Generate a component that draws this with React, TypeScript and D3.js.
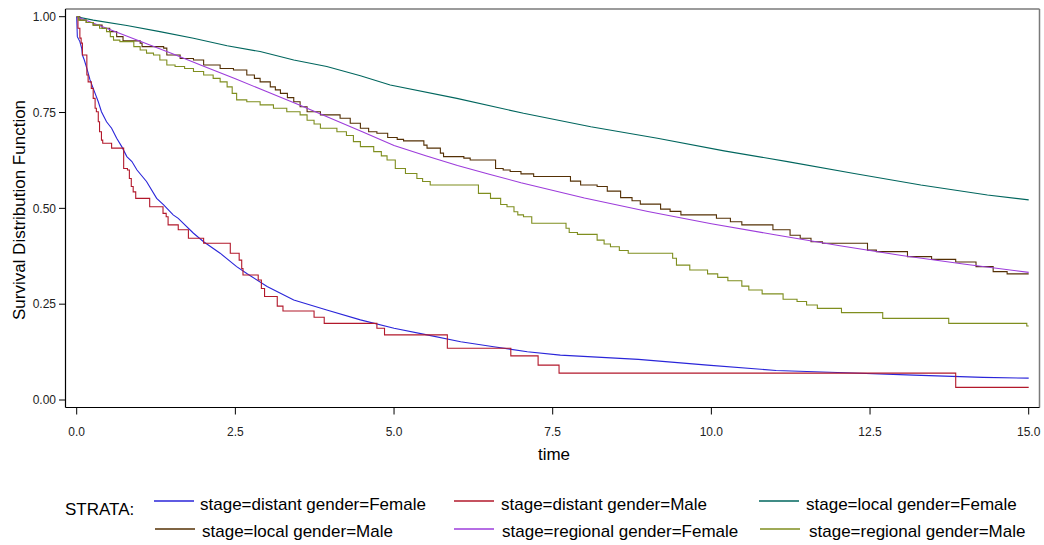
import React from "react";
import * as d3 from "d3";

type Pt = [number, number];

// [time, survival] readings
const distantFemale: Pt[] = [
  [0, 1], [0.01, 0.948], [0.05, 0.935], [0.08, 0.917], [0.09, 0.9], [0.12, 0.887], [0.16, 0.865],
  [0.21, 0.835], [0.26, 0.813], [0.34, 0.778], [0.39, 0.752], [0.47, 0.726], [0.55, 0.709],
  [0.63, 0.683], [0.71, 0.661], [0.79, 0.635], [0.87, 0.622], [0.95, 0.6], [1.1, 0.57],
  [1.26, 0.526], [1.37, 0.509], [1.52, 0.483], [1.6, 0.474], [1.84, 0.435], [2.0, 0.413],
  [2.26, 0.383], [2.52, 0.348], [2.68, 0.33], [3.0, 0.296], [3.42, 0.261], [3.94, 0.235],
  [4.47, 0.209], [5.0, 0.187], [5.52, 0.17], [6.05, 0.152], [6.57, 0.139], [7.1, 0.126],
  [7.62, 0.117], [8.85, 0.106], [9.94, 0.091], [11.02, 0.077], [12.11, 0.071], [13.19, 0.065],
  [14.28, 0.059], [15, 0.057],
];

const distantMale: Pt[] = [
  [0, 1], [0.02, 0.97], [0.05, 0.944], [0.07, 0.931], [0.09, 0.9], [0.16, 0.848], [0.18, 0.83],
  [0.23, 0.813], [0.26, 0.787], [0.29, 0.761], [0.31, 0.752], [0.34, 0.726], [0.36, 0.7],
  [0.39, 0.678], [0.41, 0.67], [0.55, 0.657], [0.74, 0.604], [0.8, 0.6], [0.83, 0.578],
  [0.86, 0.557], [0.89, 0.543], [0.93, 0.526], [1.15, 0.504], [1.36, 0.487], [1.41, 0.478],
  [1.44, 0.457], [1.6, 0.444], [1.76, 0.422], [2.0, 0.409], [2.42, 0.383], [2.56, 0.365],
  [2.6, 0.343], [2.62, 0.326], [2.86, 0.313], [2.91, 0.291], [2.96, 0.27], [3.16, 0.245],
  [3.25, 0.232], [3.74, 0.216], [3.9, 0.2], [4.73, 0.187], [4.85, 0.17], [5.84, 0.135],
  [6.84, 0.115], [7.27, 0.091], [7.6, 0.07], [13.85, 0.033], [15, 0.033],
];

const localFemale: Pt[] = [
  [0, 1], [0.26, 0.991], [0.79, 0.977], [1.31, 0.961], [1.84, 0.944], [2.37, 0.924],
  [2.89, 0.909], [3.42, 0.887], [3.94, 0.87], [4.47, 0.846], [4.94, 0.822], [5.99, 0.787],
  [7.04, 0.748], [8.1, 0.713], [9.15, 0.683], [10.2, 0.65], [11.2, 0.622], [12.25, 0.591],
  [13.3, 0.561], [14.35, 0.535], [15, 0.522],
];

const localMale: Pt[] = [
  [0, 1], [0.05, 0.991], [0.15, 0.985], [0.26, 0.978], [0.4, 0.97], [0.52, 0.961], [0.63, 0.948],
  [0.73, 0.937], [1.0, 0.931], [1.03, 0.922], [1.37, 0.918], [1.42, 0.9], [1.63, 0.891],
  [1.84, 0.887], [2.0, 0.874], [2.26, 0.865], [2.47, 0.861], [2.68, 0.848], [2.8, 0.839],
  [2.89, 0.83], [3.05, 0.817], [3.13, 0.809], [3.21, 0.8], [3.32, 0.789], [3.42, 0.778],
  [3.52, 0.765], [3.63, 0.752], [3.84, 0.744], [4.15, 0.735], [4.31, 0.722], [4.47, 0.709],
  [4.6, 0.7], [4.73, 0.696], [4.9, 0.685], [5.05, 0.68], [5.15, 0.676], [5.47, 0.665],
  [5.52, 0.657], [5.73, 0.644], [5.78, 0.635], [6.1, 0.631], [6.2, 0.626], [6.6, 0.604],
  [6.72, 0.6], [6.83, 0.596], [7.0, 0.59], [7.2, 0.583], [7.78, 0.571], [7.94, 0.561],
  [8.2, 0.557], [8.36, 0.545], [8.57, 0.528], [8.75, 0.52], [8.88, 0.511], [9.2, 0.498],
  [9.35, 0.492], [9.52, 0.483], [10.08, 0.474], [10.3, 0.465], [10.48, 0.457], [10.97, 0.444],
  [11.24, 0.43], [11.4, 0.422], [11.57, 0.413], [11.75, 0.409], [12.46, 0.391], [12.6, 0.387],
  [13.09, 0.374], [13.47, 0.367], [13.85, 0.36], [14.17, 0.348], [14.44, 0.335], [14.66, 0.329],
  [15, 0.329],
];

const regionalFemale: Pt[] = [
  [0, 1], [0.5, 0.968], [1, 0.936], [1.5, 0.904], [2, 0.871], [2.5, 0.838], [3, 0.804],
  [3.5, 0.77], [4, 0.735], [4.5, 0.7], [5, 0.664], [5.5, 0.637], [6, 0.612], [6.5, 0.589],
  [7, 0.567], [8, 0.527], [9, 0.492], [10, 0.46], [11, 0.431], [12, 0.403], [13, 0.377],
  [14, 0.354], [15, 0.333],
];

const regionalMale: Pt[] = [
  [0, 1], [0.03, 0.991], [0.15, 0.985], [0.26, 0.978], [0.36, 0.97], [0.47, 0.961], [0.53, 0.948],
  [0.58, 0.939], [0.68, 0.935], [0.9, 0.922], [1.0, 0.913], [1.1, 0.905], [1.21, 0.9],
  [1.31, 0.887], [1.42, 0.874], [1.55, 0.87], [1.7, 0.865], [1.84, 0.857], [2.0, 0.848],
  [2.15, 0.839], [2.26, 0.83], [2.37, 0.817], [2.45, 0.8], [2.52, 0.783], [2.68, 0.778],
  [2.89, 0.77], [3.1, 0.761], [3.31, 0.752], [3.52, 0.744], [3.63, 0.73], [3.74, 0.72],
  [3.84, 0.709], [4.1, 0.7], [4.25, 0.69], [4.36, 0.674], [4.47, 0.661], [4.68, 0.648],
  [4.8, 0.637], [4.89, 0.626], [5.02, 0.604], [5.18, 0.591], [5.36, 0.578], [5.45, 0.57],
  [5.57, 0.561], [6.33, 0.539], [6.52, 0.526], [6.68, 0.51], [6.78, 0.504], [6.89, 0.491],
  [6.95, 0.483], [7.04, 0.478], [7.17, 0.461], [7.71, 0.448], [7.76, 0.437], [7.89, 0.432],
  [8.2, 0.417], [8.31, 0.407], [8.41, 0.4], [8.55, 0.39], [8.69, 0.383], [9.39, 0.37],
  [9.45, 0.352], [9.66, 0.339], [9.94, 0.329], [10.1, 0.32], [10.26, 0.311], [10.48, 0.297],
  [10.59, 0.287], [10.8, 0.277], [11.13, 0.263], [11.35, 0.257], [11.5, 0.248], [11.67, 0.239],
  [12.05, 0.228], [12.7, 0.213], [13.74, 0.2], [14.97, 0.193], [15, 0.193],
];

const xTicks = [0, 2.5, 5, 7.5, 10, 12.5, 15];
const yTicks = [0, 0.25, 0.5, 0.75, 1];

const seriesNames = [
  "stage=distant gender=Female",
  "stage=distant gender=Male",
  "stage=local gender=Female",
  "stage=local gender=Male",
  "stage=regional gender=Female",
  "stage=regional gender=Male",
];
const seriesColors = ["#2A25D9", "#B2182B", "#01665E", "#543005", "#9D3CDB", "#7F8E1F"];
const seriesData = [distantFemale, distantMale, localFemale, localMale, regionalFemale, regionalMale];
const seriesStepped = [false, true, false, true, false, true];

const FONT = "'Liberation Sans', Arial, Helvetica, sans-serif";

export default function App() {
  const x = d3.scaleLinear().domain([0, 15]).range([76.7, 1028.7]);
  const y = d3.scaleLinear().domain([0, 1]).range([400, 16.7]);

  const frameL = 65.5, frameR = 1039.5, frameT = 9, frameB = 407.5;

  const legendPos = [
    { lx: 154, tx: 200, ly: 501, ty: 510 },
    { lx: 454, tx: 501, ly: 501, ty: 510 },
    { lx: 759, tx: 806, ly: 501, ty: 510 },
    { lx: 155, tx: 202, ly: 529, ty: 537 },
    { lx: 454, tx: 502, ly: 529, ty: 537 },
    { lx: 760, tx: 809, ly: 529, ty: 537 },
  ];

  return (
    <svg
      width={1044}
      height={545}
      style={{ position: "absolute", left: 0, top: 0, background: "#fff" }}
      fontFamily={FONT}
    >
      <rect x={0} y={0} width={1044} height={545} fill="#fff" />
      {/* frame */}
      <line x1={frameL} x2={frameR} y1={frameT} y2={frameT} stroke="#7a7a7a" strokeWidth={1.5} />
      <line x1={frameR} x2={frameR} y1={frameT} y2={frameB} stroke="#7a7a7a" strokeWidth={1.5} />
      <line x1={frameL} x2={frameL} y1={frameT} y2={frameB} stroke="#000" strokeWidth={1.2} />
      <line x1={frameL} x2={frameR} y1={frameB} y2={frameB} stroke="#000" strokeWidth={1.2} />

      {/* y ticks */}
      {yTicks.map((v) => (
        <g key={"y" + v}>
          <line x1={59} x2={frameL} y1={y(v)} y2={y(v)} stroke="#000" strokeWidth={1} />
          <text x={56} y={y(v) + 4.2} textAnchor="end" fontSize={12} fill="#222">
            {d3.format(".2f")(v)}
          </text>
        </g>
      ))}
      {/* x ticks */}
      {xTicks.map((v) => (
        <g key={"x" + v}>
          <line x1={x(v)} x2={x(v)} y1={frameB} y2={414.5} stroke="#000" strokeWidth={1} />
          <text x={x(v)} y={435.5} textAnchor="middle" fontSize={12} fill="#222">
            {d3.format(".1f")(v)}
          </text>
        </g>
      ))}

      {/* axis titles */}
      <text x={554} y={460} textAnchor="middle" fontSize={17} fill="#000">time</text>
      <text
        transform={`translate(25,210) rotate(-90)`}
        textAnchor="middle"
        fontSize={17}
        fill="#000"
      >
        Survival Distribution Function
      </text>

      {/* curves */}
      {seriesData.map((data, i) => {
        const gen = d3
          .line<Pt>()
          .x((d) => x(d[0]))
          .y((d) => y(d[1]))
          .curve(seriesStepped[i] ? d3.curveStepAfter : d3.curveLinear);
        return (
          <path
            key={seriesNames[i]}
            d={gen(data) || ""}
            fill="none"
            stroke={seriesColors[i]}
            strokeWidth={1.1}
          />
        );
      })}

      {/* legend */}
      <text x={65} y={515} fontSize={17} fill="#000">STRATA:</text>
      {seriesNames.map((name, i) => {
        const p = legendPos[i];
        return (
          <g key={"lg" + i}>
            <line x1={p.lx} x2={p.lx + 40} y1={p.ly} y2={p.ly} stroke={seriesColors[i]} strokeWidth={1.3} />
            <text x={p.tx} y={p.ty} fontSize={17} fill="#000">{name}</text>
          </g>
        );
      })}
    </svg>
  );
}
